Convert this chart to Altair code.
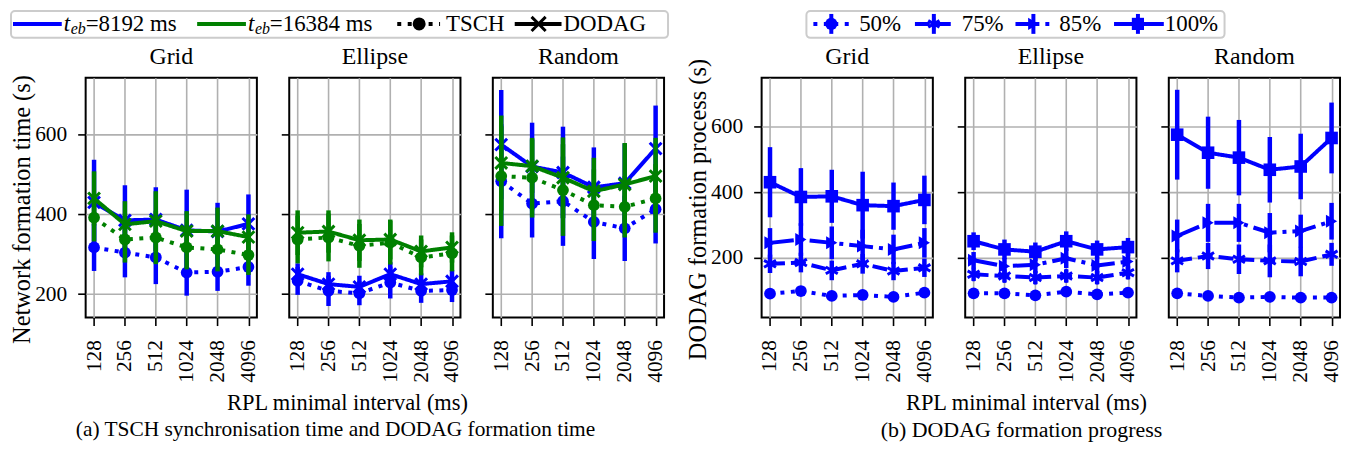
import altair as alt
import pandas as pd

FONT = "Liberation Serif"
BLUE = "#0000ff"
GREEN = "#008000"

INTERVALS = [128, 256, 512, 1024, 2048, 4096]
TOPOLOGIES = ["Grid", "Ellipse", "Random"]

# ---- (a) TSCH synchronisation time / DODAG formation time ----
TSCH_8192 = {"Grid": [317, 304, 292, 254, 256, 268],
             "Ellipse": [233, 208, 202, 229, 208, 210],
             "Random": [483, 427, 433, 381, 365, 413]}
TSCH_8192_ERR = {"Grid": [59, 62, 67, 58, 48, 47],
                 "Ellipse": [35, 38, 30, 40, 30, 30],
                 "Random": [143, 85, 112, 93, 82, 86]}
DODAG_8192 = {"Grid": [430, 385, 387, 360, 357, 376],
              "Ellipse": [250, 225, 218, 250, 225, 232],
              "Random": [575, 520, 505, 468, 478, 565]}
DODAG_8192_ERR = {"Grid": [107, 88, 81, 102, 72, 74],
                  "Ellipse": [27, 30, 28, 30, 27, 28],
                  "Random": [137, 110, 115, 100, 100, 108]}
TSCH_16384 = {"Grid": [392, 337, 342, 317, 312, 298],
              "Ellipse": [337, 342, 321, 329, 292, 302],
              "Random": [496, 492, 461, 423, 419, 440]}
TSCH_16384_ERR = {"Grid": [60, 58, 67, 55, 55, 50],
                  "Ellipse": [60, 60, 55, 55, 45, 45],
                  "Random": [125, 100, 115, 90, 77, 86]}
DODAG_16384 = {"Grid": [440, 375, 383, 358, 358, 343],
               "Ellipse": [354, 357, 335, 337, 307, 317],
               "Random": [529, 521, 492, 458, 475, 496]}
DODAG_16384_ERR = {"Grid": [68, 58, 75, 50, 59, 57],
                   "Ellipse": [56, 53, 52, 50, 40, 38],
                   "Random": [119, 67, 101, 84, 104, 96]}

# ---- (b) DODAG formation progress (t_eb = 8192 ms) ----
PROG_50 = {"Grid": [90, 98, 83, 86, 80, 93],
           "Ellipse": [91, 91, 85, 96, 88, 93],
           "Random": [91, 83, 78, 80, 78, 78]}
PROG_50_ERR = {"Grid": [12, 14, 10, 12, 10, 12],
               "Ellipse": [10, 10, 10, 12, 10, 10],
               "Random": [10, 10, 10, 10, 10, 10]}
PROG_75 = {"Grid": [181, 185, 161, 181, 159, 169],
           "Ellipse": [149, 144, 139, 144, 139, 154],
           "Random": [190, 205, 195, 190, 188, 210]}
PROG_75_ERR = {"Grid": [28, 30, 30, 30, 28, 28],
               "Ellipse": [20, 20, 20, 20, 20, 20],
               "Random": [35, 40, 45, 50, 45, 35]}
PROG_85 = {"Grid": [245, 255, 245, 235, 225, 245],
           "Ellipse": [192, 174, 178, 198, 176, 188],
           "Random": [266, 306, 306, 276, 281, 311]}
PROG_85_ERR = {"Grid": [45, 50, 50, 50, 45, 45],
               "Ellipse": [25, 25, 25, 30, 25, 25],
               "Random": [50, 58, 58, 60, 50, 56]}
PROG_100 = DODAG_8192
PROG_100_ERR = DODAG_8192_ERR

LEFT_SERIES = [  # (name, means, errs, colour, dash, marker)
    ("8192 TSCH", TSCH_8192, TSCH_8192_ERR, BLUE, [4, 6.5], "circle"),
    ("8192 DODAG", DODAG_8192, DODAG_8192_ERR, BLUE, [1, 0], "x"),
    ("16384 TSCH", TSCH_16384, TSCH_16384_ERR, GREEN, [4, 6.5], "circle"),
    ("16384 DODAG", DODAG_16384, DODAG_16384_ERR, GREEN, [1, 0], "x"),
]
RIGHT_SERIES = [
    ("50%", PROG_50, PROG_50_ERR, BLUE, [4, 6.5], "circle"),
    ("75%", PROG_75, PROG_75_ERR, BLUE, [15, 6], "asterisk"),
    ("85%", PROG_85, PROG_85_ERR, BLUE, [24, 6, 4, 6], "triangle-right"),
    ("100%", PROG_100, PROG_100_ERR, BLUE, [1, 0], "square"),
]

X_PATH = "M-1,-1L1,1M-1,1L1,-1"
AST_PATH = "M0,-1L0,1M-0.87,-0.5L0.87,0.5M-0.87,0.5L0.87,-0.5"

W = 172   # plot-area width of each panel
H = 241   # plot-area height of each panel

one = pd.DataFrame({"k": [0]})


def frame(name, means, errs, topo):
    m = means[topo]
    e = errs[topo]
    return pd.DataFrame({
        "series": name,
        "interval": INTERVALS,
        "mean": m,
        "lo": [a - b for a, b in zip(m, e)],
        "hi": [a + b for a, b in zip(m, e)],
    })


def marker_layer(base, yenc, colour, marker):
    if marker == "circle":
        return base.mark_point(shape="circle", filled=True, size=140, color=colour, opacity=1).encode(y=yenc)
    if marker == "square":
        return base.mark_point(shape="square", filled=True, size=160, color=colour, opacity=1).encode(y=yenc)
    if marker == "triangle-right":
        return base.mark_point(shape="triangle-right", filled=True, size=170, color=colour, opacity=1).encode(y=yenc)
    if marker == "x":
        return base.mark_point(shape=X_PATH, filled=False, size=140, strokeWidth=3, color=colour, opacity=1).encode(y=yenc)
    return base.mark_point(shape=AST_PATH, filled=False, size=190, strokeWidth=3, color=colour, opacity=1).encode(y=yenc)


# ---------- decoration helpers (legend / titles, placed relative to a panel) ----------
def rule(x1, x2, y, colour, dash=None, width=4):
    kw = dict(strokeWidth=width, color=colour)
    if dash is not None:
        kw["strokeDash"] = dash
    return alt.Chart(one).mark_rule(**kw).encode(x=alt.value(x1), x2=alt.value(x2), y=alt.value(y))


def vbar(x, y1, y2, colour):
    return alt.Chart(one).mark_rule(strokeWidth=4, color=colour).encode(
        x=alt.value(x), y=alt.value(y1), y2=alt.value(y2))


def txt(s, x, y, size=23, style="normal", align="left", baseline="middle"):
    return alt.Chart(one).mark_text(text=s, font=FONT, fontSize=size, fontStyle=style,
                                    align=align, baseline=baseline, color="black").encode(
        x=alt.value(x), y=alt.value(y))


def sym(x, y, shape, colour, filled=True, size=150, sw=3):
    if filled:
        return alt.Chart(one).mark_point(shape=shape, filled=True, size=size, color=colour, opacity=1).encode(
            x=alt.value(x), y=alt.value(y))
    return alt.Chart(one).mark_point(shape=shape, filled=False, size=size, strokeWidth=sw, color=colour,
                                     opacity=1).encode(x=alt.value(x), y=alt.value(y))


def box(x1, x2, y1, y2):
    return alt.Chart(one).mark_rect(fill="white", stroke="#cccccc", strokeWidth=2, cornerRadius=4).encode(
        x=alt.value(x1), x2=alt.value(x2), y=alt.value(y1), y2=alt.value(y2))


LY = -54  # legend row centre, relative to the panel top

legend_left = [
    box(-75, 585, -67, -40),
    rule(-73, -24, LY, BLUE),
    txt("t", -22, LY, style="italic"),
    txt("eb", -15, LY + 5, size=16, style="italic"),
    txt("=8192 ms", 0, LY),
    rule(112, 161, LY, GREEN),
    txt("t", 163, LY, style="italic"),
    txt("eb", 170, LY + 5, size=16, style="italic"),
    txt("=16384 ms", 185, LY),
    rule(313, 356, LY, "black", dash=[4, 6.5]),
    sym(335, LY, "circle", "black", size=170),
    txt("TSCH", 362, LY),
    rule(431, 478, LY, "black"),
    sym(455, LY, X_PATH, "black", filled=False, size=200),
    txt("DODAG", 480, LY),
]

legend_right = [
    box(45, 465, -67, -40),
    rule(52, 89, LY, BLUE, dash=[4, 6.5]),
    vbar(70, LY - 10, LY + 10, BLUE),
    sym(70, LY, "circle", BLUE, size=150),
    txt("50%", 98, LY),
    rule(154, 192, LY, BLUE, dash=[15, 6]),
    vbar(173, LY - 10, LY + 10, BLUE),
    sym(173, LY, AST_PATH, BLUE, filled=False, size=170),
    txt("75%", 201, LY),
    rule(255, 291, LY, BLUE, dash=[24, 6, 4, 6]),
    vbar(273, LY - 10, LY + 10, BLUE),
    sym(273, LY, "triangle-right", BLUE, size=150),
    txt("85%", 299, LY),
    rule(354, 404, LY, BLUE),
    vbar(378, LY - 10, LY + 10, BLUE),
    sym(378, LY, "square", BLUE, size=150),
    txt("100%", 405, LY),
]

left_texts = [
    txt("RPL minimal interval (ms)", 263, H + 86, size=22.5, align="center"),
    txt("(a) TSCH synchronisation time and DODAG formation time", 251, H + 113, size=21.5, align="center"),
]
right_texts = [
    txt("RPL minimal interval (ms)", 266, H + 86, size=22.5, align="center"),
    txt("(b) DODAG formation progress", 261, H + 113, size=22, align="center"),
]


def panel(topo, series, ydomain, first, ytitle, extra):
    xaxis = alt.Axis(values=INTERVALS, format="d", labelAngle=270, labelAlign="right",
                     labelBaseline="middle", labelPadding=14, title=None)
    xenc = alt.X("interval:Q", scale=alt.Scale(type="log", base=2, domain=[106, 4952], nice=False),
                 axis=xaxis)
    if first:
        yaxis = alt.Axis(values=[200, 400, 600], labelPadding=11, titlePadding=0, title=ytitle,
                         titleFontSize=24.5, titleY=132)
    else:
        yaxis = alt.Axis(values=[200, 400, 600], labels=False, title=None)
    yscale = alt.Scale(domain=ydomain, nice=False, zero=False)
    layers = []
    for name, means, errs, colour, dash, marker in series:
        df = frame(name, means, errs, topo)
        base = alt.Chart(df).encode(x=xenc)
        ymean = alt.Y("mean:Q", scale=yscale, axis=yaxis)
        layers.append(base.mark_rule(strokeWidth=4.5, color=colour).encode(
            y=alt.Y("lo:Q", scale=yscale, axis=yaxis), y2="hi:Q"))
        layers.append(base.mark_line(strokeWidth=4, color=colour, strokeDash=dash).encode(y=ymean))
        layers.append(marker_layer(base, ymean, colour, marker))
    layers.append(txt(topo, W / 2, -14, size=24, align="center", baseline="alphabetic"))
    layers.extend(extra)
    return alt.layer(*layers).properties(width=W, height=H)


left_panels = [
    panel("Grid", LEFT_SERIES, [141, 743], True, "Network formation time (s)", legend_left + left_texts),
    panel("Ellipse", LEFT_SERIES, [141, 743], False, None, []),
    panel("Random", LEFT_SERIES, [141, 743], False, None, []),
]
right_panels = [
    panel("Grid", RIGHT_SERIES, [17, 749], True, "DODAG formation process (s)", legend_right + right_texts),
    panel("Ellipse", RIGHT_SERIES, [17, 749], False, None, []),
    panel("Random", RIGHT_SERIES, [17, 749], False, None, []),
]

spacer = alt.Chart(one).mark_point(opacity=0).encode(x=alt.value(0), y=alt.value(0)).properties(
    width=33, height=H, view=alt.ViewBackground(stroke="transparent", strokeWidth=0))

chart = alt.hconcat(*left_panels, spacer, *right_panels, spacing=32.5, bounds="flush").properties(
    padding=0
).configure_view(
    stroke="black", strokeWidth=2
).configure_axis(
    labelFont=FONT, labelFontSize=21.5, labelColor="black",
    titleFont=FONT, titleFontSize=22, titleColor="black", titleFontWeight="normal",
    gridColor="#b0b0b0", gridWidth=1.6, gridOpacity=1,
    tickColor="black", tickSize=8, tickWidth=1.6, domain=False,
)

chart.save("out.html", embed_options={"renderer": "svg", "actions": False})
